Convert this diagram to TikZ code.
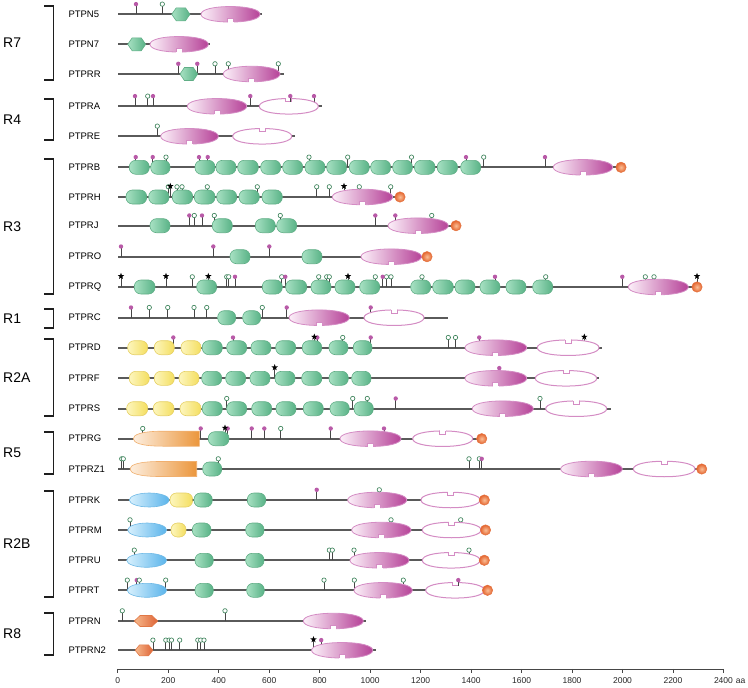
\documentclass[tikz,border=0pt]{standalone}
\usepackage{fontspec}
\setmainfont{Liberation Sans}
\definecolor{bbc}{RGB}{90,90,90}
\definecolor{stemc}{RGB}{70,70,70}
\definecolor{pinM}{RGB}{185,90,168}
\definecolor{pinG}{RGB}{60,130,90}
\definecolor{ptpL}{RGB}{252,240,249}
\definecolor{ptpM}{RGB}{222,150,205}
\definecolor{ptpR}{RGB}{182,66,152}
\definecolor{ptpE}{RGB}{212,140,196}
\definecolor{fnL}{RGB}{168,225,195}
\definecolor{fnR}{RGB}{88,178,134}
\definecolor{fnE}{RGB}{96,174,134}
\definecolor{igL}{RGB}{253,246,190}
\definecolor{igR}{RGB}{244,222,95}
\definecolor{igE}{RGB}{230,208,100}
\definecolor{mamL}{RGB}{215,240,253}
\definecolor{mamR}{RGB}{90,180,235}
\definecolor{mamE}{RGB}{110,185,230}
\definecolor{caL}{RGB}{253,238,222}
\definecolor{caR}{RGB}{235,150,60}
\definecolor{caE}{RGB}{240,175,110}
\definecolor{ballL}{RGB}{250,190,150}
\definecolor{ballR}{RGB}{228,100,45}
\definecolor{ballE}{RGB}{228,115,65}
\definecolor{hexL}{RGB}{247,185,140}
\definecolor{hexR}{RGB}{222,100,55}
\definecolor{hexE}{RGB}{225,120,70}
\definecolor{brkc}{RGB}{30,30,30}
\definecolor{axc}{RGB}{70,70,70}
% ---------- macros ----------
\newcommand\zBB[3]{\draw[sbb] (#1,#3) -- (#2,#3);}
\newcommand\zstar[2]{\fill[black] ([shift={(90:3.4pt)}]#1,#2) -- ([shift={(126:1.4pt)}]#1,#2) -- ([shift={(162:3.4pt)}]#1,#2) -- ([shift={(198:1.4pt)}]#1,#2) -- ([shift={(234:3.4pt)}]#1,#2) -- ([shift={(270:1.4pt)}]#1,#2) -- ([shift={(306:3.4pt)}]#1,#2) -- ([shift={(342:1.4pt)}]#1,#2) -- ([shift={(18:3.4pt)}]#1,#2) -- ([shift={(54:1.4pt)}]#1,#2) -- cycle;}
\newcommand\zPM[2]{\draw[sstem] (#1,#2) -- (#1,#2-9);\fill[spinm] (#1,#2-10.2) circle[radius=2.2pt];}
\newcommand\zPMs[3]{\draw[sstem] (#1,#3) -- (#1,#2-9);\fill[spinm] (#1,#2-10.2) circle[radius=2.2pt];}
\newcommand\zPO[2]{\draw[sstem] (#1,#2) -- (#1,#2-8);\filldraw[spino] (#1,#2-10.2) circle[radius=2.2pt];}
\newcommand\zPS[2]{\draw[sstem] (#1,#2) -- (#1,#2-9);\zstar{#1}{#2-10.8}}
\newcommand\zMM[2]{\foreach \zp in {#2}{\zPM{\zp}{#1}}}
\newcommand\zOO[2]{\foreach \zp in {#2}{\zPO{\zp}{#1}}}
\newcommand\zSS[2]{\foreach \zp in {#2}{\zPS{\zp}{#1}}}
\newcommand\zRR[4]{\path[#4] (#1,#3-7) rectangle (#2,#3+7);}
\newcommand\zFN[3]{\zRR{#1}{#2}{#3}{sfn}}
\newcommand\zIG[3]{\zRR{#1}{#2}{#3}{sig}}
\newcommand\zFF[2]{\foreach \za/\zb in {#2}{\zFN{\za}{\zb}{#1}}}
\newcommand\zII[2]{\foreach \za/\zb in {#2}{\zIG{\za}{\zb}{#1}}}
\newcommand\zMAM[3]{\pgfmathsetmacro\zzcx{(#1+#2)/2}\pgfmathsetmacro\zzrx{(#2-#1)/2}%
 \path[smam] (\zzcx,#3) ellipse[x radius=\zzrx pt, y radius=7pt];}
\newcommand\zblob[4]{\pgfmathsetmacro\zzcx{(#1+#2)/2}\pgfmathsetmacro\zzkx{0.6*(#2-#1)/2}%
 \path[#4] (#1,#3) .. controls (#1,#3-4.65) and (\zzcx-\zzkx,#3-7.75) .. (\zzcx,#3-7.75) .. controls (\zzcx+\zzkx,#3-7.75) and (#2,#3-4.65) .. (#2,#3) .. controls (#2,#3+4.65) and (\zzcx+\zzkx,#3+7.75) .. (\zzcx,#3+7.75) .. controls (\zzcx-\zzkx,#3+7.75) and (#1,#3+4.65) .. (#1,#3) -- cycle;}
\newcommand\zDA[3]{\zblob{#1}{#2}{#3}{sda}%
 \fill[white] (\zzcx-3,#3+4.45) rectangle (\zzcx+3,#3+9);%
 \draw[snotch] (\zzcx-3,#3+7.9) -- (\zzcx-3,#3+4.45) -- (\zzcx+3,#3+4.45) -- (\zzcx+3,#3+7.9);}
\newcommand\zDB[3]{\zblob{#1}{#2}{#3}{sdb}%
 \fill[white] (\zzcx-3,#3-9) rectangle (\zzcx+3,#3-4.45);%
 \draw[snotchb] (\zzcx-3,#3-7.9) -- (\zzcx-3,#3-4.45) -- (\zzcx+3,#3-4.45) -- (\zzcx+3,#3-7.9);}
\newcommand\zCA[3]{\pgfmathsetmacro\zzw{#2-#1}%
 \path[sca] (#2,#3-7.5) -- (#1+0.45*\zzw,#3-7.5) .. controls (#1+0.12*\zzw,#3-7.5) and (#1,#3-4) .. (#1,#3) .. controls (#1,#3+4) and (#1+0.12*\zzw,#3+7.5) .. (#1+0.45*\zzw,#3+7.5) -- (#2,#3+7.5) -- cycle;}
\newcommand\zHEX[5]{\pgfmathsetmacro\zzq{(#2-#1)/4}%
 \path[#5] (#1,#3) -- (#1+\zzq,#3-#4) -- (#2-\zzq,#3-#4) -- (#2,#3) -- (#2-\zzq,#3+#4) -- (#1+\zzq,#3+#4) -- cycle;}
\newcommand\zHG[3]{\zHEX{#1}{#2}{#3}{6.5}{shexg}}
\newcommand\zHO[3]{\zHEX{#1}{#2}{#3}{5.5}{shexo}}
\newcommand\zBALL[2]{\path[sball] (#1,#2) circle[radius=5.2pt];}
\newcommand\zBRK[2]{\draw[sbrk] (44.3,#1) -- (53.3,#1) -- (53.3,#2) -- (44.3,#2);}
\begin{document}
\begin{tikzpicture}[x=1pt,y=-1pt,
 sbb/.style={draw=bbc,line width=1.9pt},
 sstem/.style={draw=stemc,line width=0.8pt},
 spinm/.style={fill=pinM},
 spino/.style={fill=white,draw=pinG,line width=0.65pt},
 sfn/.style={draw=fnE,line width=0.6pt,left color=fnL,right color=fnR,rounded corners=6.5pt},
 sig/.style={draw=igE,line width=0.6pt,left color=igL,right color=igR,rounded corners=6.5pt},
 smam/.style={draw=mamE,line width=0.6pt,left color=mamL,right color=mamR},
 sca/.style={draw=caE,line width=0.6pt,left color=caL,right color=caR},
 sda/.style={draw=ptpE,line width=0.8pt,left color=ptpL,middle color=ptpM,right color=ptpR},
 sdb/.style={draw=ptpE,line width=1pt,fill=white},
 snotch/.style={draw=ptpE,line width=0.8pt},
 snotchb/.style={draw=ptpE,line width=1pt},
 shexg/.style={draw=fnE,line width=0.6pt,left color=fnL,right color=fnR},
 shexo/.style={draw=hexE,line width=0.6pt,left color=hexL,right color=hexR},
 sball/.style={draw=ballE,line width=0.5pt,inner color=ballL,outer color=ballR},
 sbrk/.style={draw=brkc,line width=1.5pt},
 spname/.style={anchor=west,inner sep=0pt,font=\fontsize{9.5}{11}\selectfont},
 sgname/.style={anchor=west,inner sep=0pt,font=\fontsize{14}{16}\selectfont},
 saxl/.style={inner sep=0pt,font=\fontsize{8.5}{10}\selectfont,text=black!85},
 sax/.style={draw=axc,line width=0.8pt}]
\useasboundingbox (0,0) rectangle (748,688);
% ---------- group brackets and labels ----------
\zBRK{6}{80}     \node[sgname] (gR7) at (3,43) {R7};
\zBRK{99}{140}   \node[sgname] (gR4) at (3,119.5) {R4};
\zBRK{159}{294}  \node[sgname] (gR3) at (3,226.5) {R3};
\zBRK{309}{328}  \node[sgname] (gR1) at (3,318.5) {R1};
\zBRK{339}{416}  \node[sgname] (gR2A) at (3,377.5) {R2A};
\zBRK{432}{474}  \node[sgname] (gR5) at (3,453) {R5};
\zBRK{491}{597}  \node[sgname] (gR2B) at (3,544) {R2B};
\zBRK{613}{655}  \node[sgname] (gR8) at (3,634) {R8};
% ---------- protein names ----------
\foreach \nm/\yy in {PTPN5/14.3,PTPN7/44.3,PTPRR/74,PTPRA/106.3,PTPRE/136.3,PTPRB/167.3,PTPRH/197,PTPRJ/225.7,PTPRO/256.7,PTPRQ/287,PTPRC/317.7,PTPRD/347.7,PTPRF/378.3,PTPRS/408.7,PTPRG/438.7,PTPRZ1/469,PTPRK/500,PTPRM/530,PTPRU/560.3,PTPRT/590.3,PTPRN/621,PTPRN2/650.3}
  {\node[spname] (n\nm) at (68.3,\yy) {\nm};}
% ---------- PTPN5 ----------
\zBB{118.3}{261.7}{14.3}
\zMM{14.3}{136}
\zOO{14.3}{162.3}
\zHG{171.7}{190}{14.3}
\zDA{201}{260}{14.3}
% ---------- PTPN7 ----------
\zBB{118.3}{210}{44.3}
\zHG{127.7}{145.7}{44.3}
\zDA{150}{208.3}{44.3}
% ---------- PTPRR ----------
\zBB{118.3}{284.3}{74}
\zMM{74}{178.3,197.3}
\zOO{74}{215,228.3,278.3}
\zHG{180}{197.7}{74}
\zDA{223.3}{280}{74}
% ---------- PTPRA ----------
\zBB{118.3}{321.7}{106.3}
\zMM{106.3}{135,153,250.3,314}
\zOO{106.3}{147.7}
\zDA{187.3}{246.7}{106.3}
\zDB{259.3}{318.3}{106.3}
\zPMs{290.3}{106.3}{106.3-4.45}
% ---------- PTPRE ----------
\zBB{118.3}{295}{136.3}
\zOO{136.3}{157.3}
\zDA{160.7}{218.3}{136.3}
\zDB{232.7}{291.7}{136.3}
% ---------- PTPRB ----------
\zBB{118.3}{621}{167.3}
\zMM{167.3}{135.7,152.7,199,207.7,466,545}
\zOO{167.3}{166,309,347.7,411.5,483.7}
\zFF{167.3}{129.3/149.3,150.7/170,195/215,216/236,237.7/258.3,260.7/280.7,282.7/302.7,305/325,326.7/346.7,349.3/369.3,370.7/390.7,392.7/412.5,414.5/435,437.3/457.5,460.7/480.7}
\zDA{553.3}{612.7}{167.3}
\zBALL{621}{167.3}
% ---------- PTPRH ----------
\zBB{118.3}{400}{197}
\zOO{197}{168.3,177,182,207.3,257.3,316.7,329.3,359.3,390.7}
\zSS{197}{170.3,344}
\zFF{197}{126/146.7,148.7/169,172.3/192.7,194.3/215,216.7/236.7,239/259.3,262/282.3}
\zDA{332.3}{392.7}{197}
\zBALL{400}{197}
% ---------- PTPRJ ----------
\zBB{118.3}{456}{225.7}
\zMM{225.7}{189.3,202,375.3,395.3}
\zOO{225.7}{194.3,214.3,280.3,431.7}
\zFF{225.7}{150/170,212.3/232.3,255.3/275.3,276.7/296.7}
\zDA{388}{448.3}{225.7}
\zBALL{456}{225.7}
% ---------- PTPRO ----------
\zBB{118.3}{427}{256.7}
\zMM{256.7}{121,213.3,269.3}
\zFF{256.7}{230/250,302/322}
\zDA{361}{421.5}{256.7}
\zBALL{427}{256.7}
% ---------- PTPRQ ----------
\zBB{118.3}{697}{287}
\zOO{287}{192.3,226.7,228.7,281.7,318.7,326.7,329.3,375.3,386.5,391,422,545.7,645.3,654}
\zMM{287}{235,285.3,382.7,495,622.3}
\zSS{287}{121,166,208.3,348,697}
\zFF{287}{134.3/155,196.7/216.7,262.3/282.3,285.7/306.7,311/331,335/355,359.7/379.7,410.7/430.7,432.7/453.3,455/475,480/500,506/526,532.7/552.7}
\zDA{628.3}{688.3}{287}
\zBALL{697}{287}
% ---------- PTPRC ----------
\zBB{118.3}{447.7}{317.7}
\zMM{317.7}{131,286.7,370.7}
\zOO{317.7}{149.3,167.7,194,206.7,262.3}
\zFF{317.7}{217.7/235.7,242.7/260.7}
\zDA{289}{349.3}{317.7}
\zDB{364}{424}{317.7}
% ---------- PTPRD ----------
\zBB{118.3}{601.7}{347.7}
\zMM{347.7}{173.3,233,317.3,370.7,479.2}
\zOO{347.7}{342.7,448.3,455.5}
\zSS{347.7}{314.3,584.3}
\zII{347.7}{127.7/147.7,154.3/174.3,181/201}
\zFF{347.7}{202.3/222.3,226.7/246.7,251/271,275.7/295.7,302.3/321.7,329/348,353.3/372}
\zDA{465}{526.7}{347.7}
\zDB{537.3}{599}{347.7}
% ---------- PTPRF ----------
\zBB{118.3}{599.3}{378.3}
\zMM{378.3}{499.3}
\zSS{378.3}{274.7}
\zII{378.3}{129.3/149.3,154.3/174.3,179/199}
\zFF{378.3}{201.7/221.7,225.7/245.7,250/270,275/295,301.7/321.7,329/348.3,351.7/371}
\zDA{465}{526.7}{378.3}
\zDB{535.3}{596.7}{378.3}
% ---------- PTPRS ----------
\zBB{118.3}{610.7}{408.7}
\zMM{408.7}{395.7}
\zOO{408.7}{226.7,352.7,367.3,540}
\zII{408.7}{126.7/147.7,153.3/174,180/201}
\zFF{408.7}{202.3/222.3,226.7/246.7,251.7/271.7,276/296,303.3/323.3,330/349.3,354/373.3}
\zDA{472.3}{533.3}{408.7}
\zDB{545.7}{606.7}{408.7}
% ---------- PTPRG ----------
\zBB{118.3}{481.7}{438.7}
\zMM{438.7}{200.7,227.7,251.7,264.3,330.7,384}
\zOO{438.7}{142.7,280.7}
\zSS{438.7}{225}
\zCA{133.3}{199.3}{438.7}
\zFF{438.7}{208.3/229}
\zDA{340}{401}{438.7}
\zDB{412.7}{472.7}{438.7}
\zBALL{481.7}{438.7}
% ---------- PTPRZ1 ----------
\zBB{118.3}{701.7}{469}
\zOO{469}{121.7,123.3,218.3,469,479.3}
\zMM{469}{481.7}
\zCA{130}{196.7}{469}
\zFF{469}{202.7/221.7}
\zDA{560.7}{622.3}{469}
\zDB{633.3}{695}{469}
\zBALL{701.7}{469}
% ---------- PTPRK ----------
\zBB{118.3}{484.3}{500}
\zMM{500}{316.7}
\zOO{500}{379.3}
\zMAM{129.3}{169.3}{500}
\zII{500}{170/192.7}
\zFF{500}{194/212.3,247.3/265.7}
\zDA{347.7}{406.7}{500}
\zDB{421}{480}{500}
\zBALL{484.3}{500}
% ---------- PTPRM ----------
\zBB{118.3}{485.5}{530}
\zOO{530}{130,391,460.7}
\zMAM{127.7}{166.7}{530}
\zII{530}{171/186}
\zFF{530}{192.3/211,245.7/264}
\zDA{351.7}{411}{530}
\zDB{422.3}{481}{530}
\zBALL{485.5}{530}
% ---------- PTPRU ----------
\zBB{118.3}{484.3}{560.3}
\zOO{560.3}{134.3,329.3,332.3,354,469}
\zMAM{126.7}{166.7}{560.3}
\zFF{560.3}{195/213.3,245.7/264}
\zDA{350}{409}{560.3}
\zDB{422.3}{480}{560.3}
\zBALL{484.3}{560.3}
% ---------- PTPRT ----------
\zBB{118.3}{487.5}{590.3}
\zMM{590.3}{136.7}
\zOO{590.3}{127.3,139.3,165.7,324,354.3,403.3}
\zMAM{127.3}{166.7}{590.3}
\zFF{590.3}{195/213.3,246.7/264.3}
\zDA{354}{412.3}{590.3}
\zDB{425.7}{484.3}{590.3}
\zPMs{458.3}{590.3}{590.3-4.45}
\zBALL{487.5}{590.3}
% ---------- PTPRN ----------
\zBB{118.3}{366}{621}
\zOO{621}{122.3,225}
\zHO{134.3}{157.7}{621}
\zDA{303.3}{363.3}{621}
% ---------- PTPRN2 ----------
\zBB{118.3}{376}{650.3}
\zOO{650.3}{152.9,165.8,169.1,171.5,179.7,197.8,200.7,204}
\zMM{650.3}{321.2}
\zSS{650.3}{313.5}
\zHO{135.2}{152.9}{650.3}
\zDA{311.6}{372.8}{650.3}
% ---------- axis ----------
\draw[sax] (117.7,669.3) -- (723.5,669.3);
\foreach \k in {0,...,12}{%
  \pgfmathsetmacro\xx{117.7+50.48*\k}%
  \pgfmathtruncatemacro\lab{200*\k}%
  \draw[sax] (\xx,668.9) -- (\xx,673.2);
  \node[saxl] (ax\k) at (\xx,681) {\lab};}
\node[saxl,anchor=base west] (axunit) at ([xshift=2.6pt]ax12.base east) {aa};
\end{tikzpicture}
\end{document}
